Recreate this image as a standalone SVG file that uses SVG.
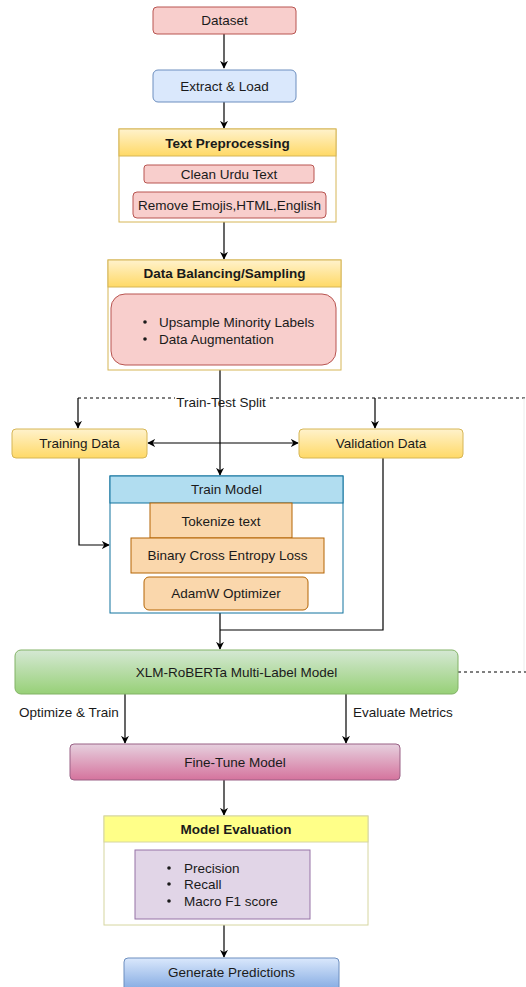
<svg xmlns="http://www.w3.org/2000/svg" width="526" height="987" viewBox="0 0 526 987">
  <defs>
    <linearGradient id="gYellow" x1="0" y1="0" x2="0" y2="1">
      <stop offset="0" stop-color="#fff2cc"/>
      <stop offset="1" stop-color="#ffd966"/>
    </linearGradient>
    <linearGradient id="gGreen" x1="0" y1="0" x2="0" y2="1">
      <stop offset="0" stop-color="#d5e8d4"/>
      <stop offset="1" stop-color="#97d077"/>
    </linearGradient>
    <linearGradient id="gPink" x1="0" y1="0" x2="0" y2="1">
      <stop offset="0" stop-color="#e6d0de"/>
      <stop offset="1" stop-color="#d5739d"/>
    </linearGradient>
    <linearGradient id="gBlue" x1="0" y1="0" x2="0" y2="1">
      <stop offset="0" stop-color="#dae8fc"/>
      <stop offset="1" stop-color="#7ea6e0"/>
    </linearGradient>
    <marker id="arrow" viewBox="0 0 10 10" refX="9" refY="5" markerWidth="8" markerHeight="8" markerUnits="userSpaceOnUse" orient="auto-start-reverse">
      <path d="M0,0 L10,5 L0,10 L3,5 Z" fill="#000"/>
    </marker>
  </defs>
  <style>
    text { font-family: "Liberation Sans", Arial, sans-serif; font-size: 13.5px; fill: #1a1a1a; text-anchor: middle; dominant-baseline: central; }
    .b { font-weight: bold; }
    .l { text-anchor: start; }
    .red { fill: #f8cecc; stroke: #b85450; stroke-width: 1; }
    .blue { fill: #dae8fc; stroke: #6c8ebf; stroke-width: 1; }
    .ybox { fill: url(#gYellow); stroke: #d6b656; stroke-width: 1; }
    .frame { fill: #fff; stroke: #d6b656; stroke-width: 1; }
    .orange { fill: #fad7ac; stroke: #b46504; stroke-width: 1; }
    .edge { fill: none; stroke: #000; stroke-width: 1.2; }
    .dash { fill: none; stroke: #000; stroke-width: 1; stroke-dasharray: 3 3; }
  </style>

  <rect width="526" height="987" fill="#fff"/>

  <!-- connectors -->
  <g id="connectors">
    <line class="edge" x1="224" y1="34" x2="224" y2="68" marker-end="url(#arrow)"/>
    <line class="edge" x1="224" y1="102" x2="224" y2="128" marker-end="url(#arrow)"/>
    <line class="edge" x1="224" y1="222" x2="224" y2="259" marker-end="url(#arrow)"/>
    <line class="dash" x1="78" y1="398" x2="526" y2="398"/>
    <line x1="524" y1="398" x2="524" y2="672" stroke="#ececec" stroke-width="1"/>
    <line class="edge" x1="78" y1="398" x2="78" y2="428" marker-end="url(#arrow)"/>
    <line class="edge" x1="375" y1="398" x2="375" y2="428" marker-end="url(#arrow)"/>
    <line class="edge" x1="148" y1="443" x2="298" y2="443" marker-start="url(#arrow)" marker-end="url(#arrow)"/>
    <polyline class="edge" points="79,458 79,545 109,545" marker-end="url(#arrow)"/>
    <polyline class="edge" points="383,458 383,630 220,630"/>
    <line class="edge" x1="220" y1="610" x2="220" y2="649" marker-end="url(#arrow)"/>
    <line class="dash" x1="458" y1="672" x2="526" y2="672"/>
    <line class="edge" x1="125" y1="694" x2="125" y2="743" marker-end="url(#arrow)"/>
    <line class="edge" x1="346" y1="694" x2="346" y2="743" marker-end="url(#arrow)"/>
    <line class="edge" x1="224" y1="780" x2="224" y2="815" marker-end="url(#arrow)"/>
    <line class="edge" x1="224" y1="925" x2="224" y2="957" marker-end="url(#arrow)"/>
    <rect x="175" y="396" width="92" height="12" fill="#fff"/>
    <line class="edge" x1="220" y1="370" x2="220" y2="475" marker-end="url(#arrow)"/>
    <text x="221" y="402">Train-Test Split</text>
    <text class="l" x="19" y="712">Optimize &amp; Train</text>
    <text class="l" x="353" y="712">Evaluate Metrics</text>
  </g>

  <g id="dataset">
    <rect class="red" x="153" y="7" width="143" height="27" rx="4"/>
    <text x="224.5" y="20.5">Dataset</text>
  </g>

  <g id="extract-load">
    <rect class="blue" x="153" y="70" width="143" height="32" rx="5"/>
    <text x="224.5" y="86">Extract &amp; Load</text>
  </g>

  <g id="text-preprocessing">
    <rect class="frame" x="119" y="129" width="217" height="93"/>
    <rect class="ybox" x="119" y="129" width="217" height="27"/>
    <text class="b" x="227.5" y="143">Text Preprocessing</text>
    <rect class="red" x="144" y="165" width="170" height="18" rx="3"/>
    <text x="229" y="174">Clean Urdu Text</text>
    <rect class="red" x="133" y="192" width="193" height="26" rx="4"/>
    <text x="229.5" y="205">Remove Emojis,HTML,English</text>
  </g>

  <g id="data-balancing">
    <rect class="frame" x="108" y="260" width="233" height="110"/>
    <rect class="ybox" x="108" y="260" width="233" height="27"/>
    <text class="b" x="224.5" y="273.5">Data Balancing/Sampling</text>
    <rect class="red" x="111" y="294" width="225" height="71" rx="14"/>
    <circle cx="145" cy="322" r="1.8" fill="#1a1a1a"/>
    <text class="l" x="159" y="322">Upsample Minority Labels</text>
    <circle cx="145" cy="339" r="1.8" fill="#1a1a1a"/>
    <text class="l" x="159" y="339">Data Augmentation</text>
  </g>

  <g id="training-data">
    <rect class="ybox" x="12" y="429" width="135" height="29" rx="4"/>
    <text x="79.5" y="443.5">Training Data</text>
  </g>

  <g id="validation-data">
    <rect class="ybox" x="299" y="429" width="164" height="29" rx="4"/>
    <text x="381" y="443.5">Validation Data</text>
  </g>

  <g id="train-model">
    <rect x="110" y="476" width="233" height="137" fill="#fff" stroke="#10739e"/>
    <rect x="110" y="476" width="233" height="27" fill="#b1ddf0" stroke="#10739e"/>
    <text x="226.5" y="489.5">Train Model</text>
    <rect class="orange" x="150" y="503" width="142" height="35"/>
    <text x="221" y="521">Tokenize text</text>
    <rect class="orange" x="131" y="538" width="193" height="35"/>
    <text x="227.5" y="555">Binary Cross Entropy Loss</text>
    <rect class="orange" x="144" y="577" width="164" height="33" rx="5"/>
    <text x="226" y="593.5">AdamW Optimizer</text>
  </g>

  <g id="xlm-roberta">
    <rect x="15" y="650" width="443" height="44" rx="6" fill="url(#gGreen)" stroke="#82b366"/>
    <text x="236.5" y="672">XLM-RoBERTa Multi-Label Model</text>
  </g>

  <g id="fine-tune">
    <rect x="70" y="744" width="330" height="36" rx="4" fill="url(#gPink)" stroke="#996185"/>
    <text x="235" y="762">Fine-Tune Model</text>
  </g>

  <g id="model-evaluation">
    <rect x="104" y="816" width="264" height="109" fill="#fff" stroke="#d6d6a0"/>
    <rect x="104" y="816" width="264" height="26" fill="#ffff88" stroke="#d6d6a0"/>
    <text class="b" x="236" y="829">Model Evaluation</text>
    <rect x="135" y="850" width="175" height="69" fill="#e1d5e7" stroke="#9673a6"/>
    <circle cx="169" cy="868" r="1.8" fill="#1a1a1a"/>
    <text class="l" x="184" y="868">Precision</text>
    <circle cx="169" cy="884" r="1.8" fill="#1a1a1a"/>
    <text class="l" x="184" y="884">Recall</text>
    <circle cx="169" cy="901" r="1.8" fill="#1a1a1a"/>
    <text class="l" x="184" y="901">Macro F1 score</text>
  </g>

  <g id="generate-predictions">
    <rect x="124" y="958" width="215" height="34" rx="4" fill="url(#gBlue)" stroke="#6c8ebf"/>
    <text x="231.5" y="972">Generate Predictions</text>
  </g>
</svg>
